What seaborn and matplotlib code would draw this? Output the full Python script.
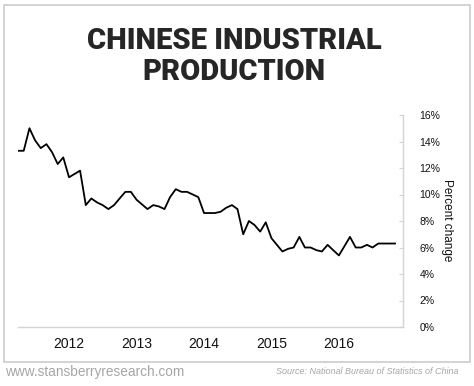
import matplotlib
matplotlib.use("Agg")
import numpy as np
import pandas as pd
import matplotlib.pyplot as plt
import matplotlib.dates as mdates
import matplotlib.ticker as mticker
from matplotlib.patches import Rectangle
import seaborn as sns

TITLE_LINES = ["CHINESE INDUSTRIAL", "PRODUCTION"]
Y_LABEL = "Percent change"
SITE = "www.stansberryresearch.com"
SOURCE = "Source: National Bureau of Statistics of China"

# monthly readings (Jan/Feb reported together, so no Feb point)
months = [
    "2011-04", "2011-05", "2011-06", "2011-07", "2011-08", "2011-09", "2011-10", "2011-11", "2011-12",
    "2012-01", "2012-03", "2012-04", "2012-05", "2012-06", "2012-07", "2012-08", "2012-09", "2012-10", "2012-11", "2012-12",
    "2013-01", "2013-03", "2013-04", "2013-05", "2013-06", "2013-07", "2013-08", "2013-09", "2013-10", "2013-11", "2013-12",
    "2014-01", "2014-03", "2014-04", "2014-05", "2014-06", "2014-07", "2014-08", "2014-09", "2014-10", "2014-11", "2014-12",
    "2015-01", "2015-03", "2015-04", "2015-05", "2015-06", "2015-07", "2015-08", "2015-09", "2015-10", "2015-11", "2015-12",
    "2016-01", "2016-03", "2016-04", "2016-05", "2016-06", "2016-07", "2016-08", "2016-09", "2016-10", "2016-11",
]
ip_growth = [
    13.3, 13.3, 15.0, 14.1, 13.5, 13.8, 13.2, 12.3, 12.8,
    11.3, 11.8, 9.2, 9.7, 9.4, 9.2, 8.9, 9.2, 9.7, 10.2, 10.2,
    9.6, 8.9, 9.2, 9.1, 8.9, 9.8, 10.4, 10.2, 10.2, 10.0, 9.8,
    8.6, 8.6, 8.7, 9.0, 9.2, 8.9, 7.0, 8.0, 7.7, 7.2, 7.9,
    6.7, 5.7, 5.9, 6.0, 6.8, 6.0, 6.0, 5.8, 5.7, 6.2, 5.8,
    5.4, 6.8, 6.0, 6.0, 6.2, 6.0, 6.3, 6.3, 6.3, 6.3,
]
y_ticks = [0, 2, 4, 6, 8, 10, 12, 14, 16]


def main():
    df = pd.DataFrame({"date": pd.to_datetime(months), "value": ip_growth})

    sns.set_style("white")
    plt.rcParams["font.family"] = ["Liberation Sans", "DejaVu Sans"]

    fig = plt.figure(figsize=(4.74, 3.86), dpi=100)
    ax = fig.add_axes([18 / 474, 1 - 327 / 386, 385 / 474, 212 / 386])

    sns.lineplot(data=df, x="date", y="value", color="black", linewidth=1.3, ax=ax)

    ax.set_xlim(pd.Timestamp("2011-03-31"), pd.Timestamp("2016-12-13"))
    ax.set_ylim(0, 16)
    ax.xaxis.set_major_locator(mdates.YearLocator())
    ax.xaxis.set_major_formatter(mdates.DateFormatter("%Y"))
    ax.yaxis.tick_right()
    ax.set_yticks(y_ticks)
    ax.yaxis.set_major_formatter(mticker.PercentFormatter(decimals=0))
    ax.set_xlabel("")
    ax.set_ylabel("")

    for side in ["top", "left"]:
        ax.spines[side].set_visible(False)
    for side in ["bottom", "right"]:
        ax.spines[side].set_color("#d4d4d4")
        ax.spines[side].set_linewidth(1.0)

    ax.tick_params(axis="x", direction="out", length=3, color="#d4d4d4", pad=4,
                   labelsize=10, labelcolor="#111111")
    ax.tick_params(axis="y", direction="in", length=3, color="#d4d4d4", pad=12,
                   labelsize=7.5, labelcolor="#111111")

    fig.text(447 / 474, 1 - 220 / 386, Y_LABEL, rotation=-90, ha="center", va="center",
             fontsize=8.5, color="#111111")

    fig.text(234 / 474, 1 - 41 / 386, TITLE_LINES[0], ha="center", va="center",
             fontsize=21, fontweight="black", family=["Roboto", "DejaVu Sans"])
    fig.text(234 / 474, 1 - 72.5 / 386, TITLE_LINES[1], ha="center", va="center",
             fontsize=21, fontweight="black", family=["Roboto", "DejaVu Sans"])

    fig.text(5 / 474, 1 - 372 / 386, SITE, ha="left", va="center",
             fontsize=9.8, color="#a6a6a6")
    fig.text(458 / 474, 1 - 371 / 386, SOURCE, ha="right", va="center",
             fontsize=6.5, style="italic", color="#a6a6a6")

    fig.add_artist(Rectangle((4 / 474, 24 / 386), 466 / 474, 357 / 386,
                             transform=fig.transFigure, fill=False,
                             edgecolor="#cccccc", linewidth=1.2))

    fig.savefig("out.png", dpi=100)
    plt.close(fig)


if __name__ == "__main__":
    main()
